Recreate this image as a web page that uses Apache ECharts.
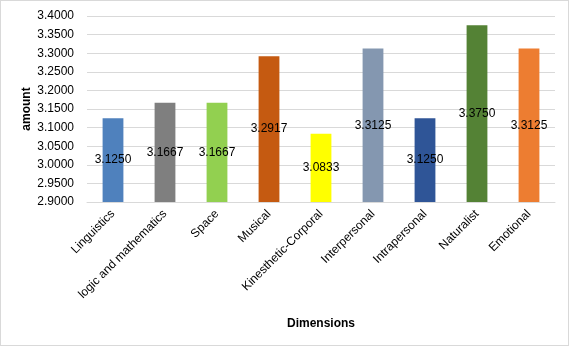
<!DOCTYPE html>
<html><head><meta charset="utf-8">
<script src="https://cdn.jsdelivr.net/npm/echarts@6/dist/echarts.min.js"></script>
<style>html,body{margin:0;padding:0;background:#fff;}#c{width:567px;height:344px;border:1px solid #d9d9d9;}</style>
</head><body><div id="c"></div>
<script>
const categories = ["Linguistics","logic and mathematics","Space","Musical","Kinesthetic-Corporal","Interpersonal","Intrapersonal","Naturalist","Emotional"];
const values = [3.1250,3.1667,3.1667,3.2917,3.0833,3.3125,3.1250,3.3750,3.3125];
const colors = ["#4F81BD","#7F7F7F","#92D050","#C55A11","#FFFF00","#8497B0","#2F5597","#548235","#ED7D31"];
const yTicks = {min:2.9, max:3.4, interval:0.05};
const yTitle = "amount";
const font = "Liberation Sans";
const chart = echarts.init(document.getElementById('c'));
chart.setOption({
  animation:false,
  grid:{left:86,right:13,top:15,bottom:143},
  graphic:[{type:'text',x:26,y:108,rotation:Math.PI/2,
    style:{text:yTitle,fontFamily:font,fontSize:12,fontWeight:'bold',fill:'#000',align:'center',verticalAlign:'middle'}}],
  xAxis:{type:'category',data:categories,
    axisLine:{lineStyle:{color:'#d9d9d9'}},axisTick:{show:false},
    axisLabel:{rotate:45,color:'#000',fontFamily:font,fontSize:12,interval:0,margin:10},
    name:'Dimensions',nameLocation:'middle',nameGap:116,
    nameTextStyle:{fontFamily:font,fontSize:12,fontWeight:'bold',color:'#000'}},
  yAxis:{type:'value',min:yTicks.min,max:yTicks.max,interval:yTicks.interval,
    axisLine:{show:false},axisTick:{show:false},
    splitLine:{lineStyle:{color:'#d9d9d9'}},
    axisLabel:{color:'#000',fontFamily:font,fontSize:12,margin:13,formatter:v=>v.toFixed(4)}},
  series:[{type:'bar',barWidth:'40%',
    data:values.map((v,i)=>({value:v,itemStyle:{color:colors[i]}})),
    label:{show:true,position:'inside',color:'#000',fontFamily:font,fontSize:12,formatter:p=>p.value.toFixed(4)}}]
});
</script></body></html>
